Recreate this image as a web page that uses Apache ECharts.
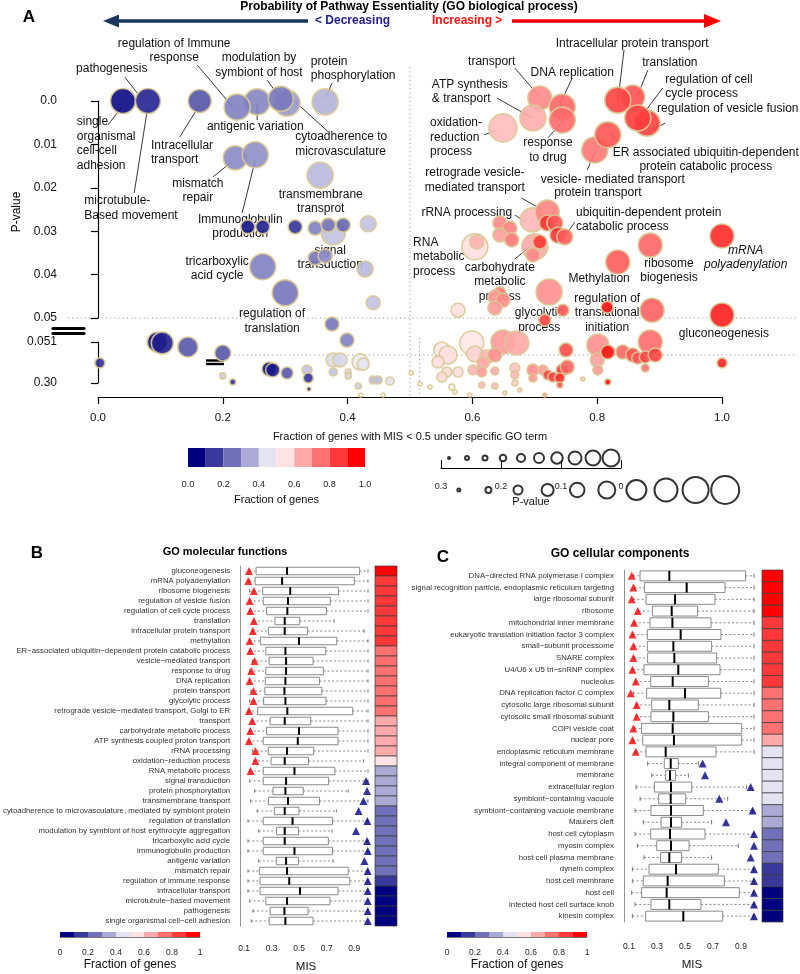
<!DOCTYPE html>
<html><head><meta charset="utf-8">
<script src="https://cdn.jsdelivr.net/npm/echarts@6/dist/echarts.min.js"></script>
<style>html,body{margin:0;padding:0;background:#fff}#c{width:800px;height:974px}</style>
</head><body><div id="c"></div>
<script>
// ---------------- DATA ----------------
// Panel A bubbles: [fraction of genes MIS<0.5, p-value, bubble size, colour fraction]
const bubblesUpper = [
 [0.040,0.0000,12.5,0.02],[0.080,0.0000,12.5,0.07],[0.163,0.0000,11.5,0.165],[0.303,0.0005,13,0.30],
 [0.255,0.0002,13,0.26],[0.223,0.0014,13,0.25],[0.293,-0.0005,12.5,0.235],[0.364,0.0002,13,0.35],
 [0.220,0.0131,12,0.27],[0.252,0.0124,13,0.28],[0.356,0.0171,13,0.36],[0.377,0.0304,12,0.38],
 [0.240,0.0290,7,0.04],[0.264,0.0290,7,0.06],[0.316,0.0290,7,0.10],[0.348,0.0293,7,0.25],
 [0.369,0.0286,7,0.23],[0.393,0.0286,7,0.20],[0.433,0.0283,8,0.38],[0.348,0.0362,7,0.23],
 [0.364,0.0357,7,0.27],[0.428,0.0387,8,0.36],[0.264,0.0382,13,0.25],[0.300,0.0442,13,0.23],
 [0.441,0.0465,7,0.38],[0.375,0.0514,7,0.23],[0.399,0.0551,7,0.25],
 [0.708,-0.0007,12,0.73],[0.697,0.0039,13,0.66],[0.744,0.0014,13,0.80],[0.744,0.0044,13,0.79],
 [0.649,0.0062,14,0.63],[0.857,-0.0009,12,0.84],[0.833,-0.0002,13,0.87],[0.880,0.0051,13,0.87],
 [0.865,0.0039,13,0.88],[0.796,0.0113,13,0.77],[0.817,0.0078,13,0.83],[0.644,0.0281,7,0.73],
 [0.660,0.0293,7,0.75],[0.644,0.0309,7,0.69],[0.663,0.0320,7,0.77],[0.604,0.0336,13,0.56],
 [0.607,0.0325,7,0.65],[0.696,0.0274,12,0.64],[0.720,0.0256,12,0.74],[0.720,0.0281,8,0.90],
 [0.732,0.0281,8,0.84],[0.737,0.0309,8,0.90],[0.748,0.0313,8,0.82],[0.700,0.0336,13,0.67],
 [0.708,0.0325,7,0.89],[0.697,0.0355,7,0.73],[0.833,0.0371,12,0.82],[0.885,0.0332,12,0.80],
 [1.000,0.0311,12,0.92],[0.723,0.0440,13,0.72],[0.644,0.0442,6,0.77],[0.636,0.0452,7,0.70],
 [0.649,0.0459,7,0.73],[0.636,0.0477,7,0.70],[0.577,0.0482,7,0.56],[0.745,0.0482,6,0.83],
 [0.716,0.0505,6,0.87],[0.816,0.0475,6,0.97],[0.888,0.0482,12,0.81],[1.000,0.0493,12,0.94]
];
const bubblesLower = [
 [0.095,0.051,10,0.02],[0.103,0.057,11,0.06],[0.144,0.081,10,0.17],[0.200,0.118,8,0.17],
 [0.003,0.178,5,0.10],[0.274,0.215,7,0.03],[0.280,0.221,7,0.05],[0.303,0.239,6,0.17],
 [0.335,0.221,5,0.38],[0.337,0.270,5,0.10],[0.200,0.257,3,0.40],[0.216,0.294,3,0.10],
 [0.377,0.160,7,0.43],[0.388,0.160,7,0.42],[0.420,0.172,8,0.46],[0.425,0.185,6,0.45],
 [0.377,0.233,4,0.38],[0.401,0.233,3,0.42],[0.401,0.257,3,0.42],[0.417,0.318,3,0.40],
 [0.441,0.282,4,0.36],[0.449,0.282,4,0.37],[0.468,0.288,4,0.44],[0.338,0.336,2,0.05],
 [0.421,0.373,2,0.50],[0.457,0.373,2,0.50],[0.502,0.239,2,0.50],[0.516,0.306,2,0.50],
 [0.599,0.057,12,0.55],[0.649,0.051,12,0.70],[0.671,0.057,12,0.67],[0.885,0.051,12,0.79],
 [0.801,0.069,11,0.72],[0.551,0.100,8,0.55],[0.561,0.130,9,0.56],[0.545,0.172,6,0.56],
 [0.559,0.233,5,0.57],[0.551,0.264,5,0.57],[0.577,0.233,5,0.56],[0.567,0.324,3,0.52],
 [0.604,0.124,8,0.59],[0.623,0.142,7,0.65],[0.617,0.178,6,0.67],[0.636,0.130,7,0.72],
 [0.601,0.221,5,0.65],[0.615,0.233,5,0.70],[0.636,0.227,4,0.67],[0.668,0.209,5,0.62],
 [0.668,0.251,4,0.64],[0.668,0.300,3,0.59],[0.636,0.318,3,0.63],[0.615,0.312,3,0.63],
 [0.697,0.221,6,0.73],[0.697,0.270,4,0.70],[0.713,0.221,5,0.70],[0.721,0.251,5,0.87],
 [0.729,0.264,5,0.87],[0.744,0.221,6,0.90],[0.752,0.203,7,0.80],[0.740,0.270,5,0.92],
 [0.750,0.100,7,0.85],[0.740,0.312,3,0.85],[0.777,0.276,2,0.60],[0.800,0.160,7,0.69],
 [0.801,0.221,5,0.70],[0.817,0.112,7,0.97],[0.841,0.112,7,0.80],[0.857,0.130,7,0.85],
 [0.865,0.148,6,0.83],[0.877,0.142,6,0.87],[0.893,0.130,7,0.87],[0.877,0.209,4,0.77],
 [0.817,0.294,3,0.97],[1.000,0.178,5,0.93],[0.532,0.324,2,0.52],[0.572,0.355,2,0.52],
 [0.596,0.373,2,0.55],[0.652,0.361,2,0.60],[0.676,0.343,2,0.60],[0.716,0.373,2,0.70]
];
const lowerYTicks = [0.051, 0.30];
// annotations (data coordinates of panel A upper axis)
const annotations = [
 {t:'regulation of Immune\nresponse', at:[0.122,-0.0116], al:'center', ln:[[0.159,-0.0083],[0.216,0.0014]]},
 {t:'pathogenesis', at:[0.022,-0.0074], al:'center', ln:[[0.043,-0.0055],[0.063,-0.0018]]},
 {t:'modulation by\nsymbiont of host', at:[0.258,-0.0083], al:'center', ln:[[0.271,-0.0048],[0.292,-0.0007]]},
 {t:'protein\nphosphorylation', at:[0.341,-0.0075], al:'left', ln:[[0.375,-0.0041],[0.364,-0.0007]]},
 {t:'single\norganismal\ncell-cell\nadhesion', at:[-0.034,0.0098], al:'left', ln:[[0.016,0.0055],[0.038,0.0014]]},
 {t:'Intracellular\ntransport', at:[0.085,0.0119], al:'left', ln:[[0.131,0.0083],[0.163,0.0009]]},
 {t:'antigenic variation', at:[0.252,0.0060], al:'center', ln:[[0.255,0.0044],[0.255,0.0005]]},
 {t:'cytoadherence to\nmicrovasculature', at:[0.316,0.0100], al:'left', ln:[[0.369,0.0071],[0.313,-0.0002]]},
 {t:'mismatch\nrepair', at:[0.160,0.0207], al:'center', ln:[[0.184,0.0175],[0.212,0.0143]]},
 {t:'microtubule-\nBased movement', at:[-0.022,0.0247], al:'left', ln:[[0.058,0.0212],[0.079,0.0021]]},
 {t:'Immunoglobulin\nproduction', at:[0.228,0.0290], al:'center', ln:[[0.231,0.0258],[0.252,0.0136]]},
 {t:'transmembrane\ntransprot', at:[0.357,0.0232], al:'center'},
 {t:'signal\ntransduction', at:[0.372,0.0361], al:'center'},
 {t:'tricarboxylic\nacid cycle', at:[0.191,0.0386], al:'center'},
 {t:'regulation of\ntranslation', at:[0.279,0.0507], al:'center'},
 {t:'Intracellular protein transport', at:[0.856,-0.0131], al:'center', ln:[[0.843,-0.0118],[0.833,0.0002]]},
 {t:'translation', at:[0.872,-0.0088], al:'left', ln:[[0.881,-0.0071],[0.864,-0.0009]]},
 {t:'regulation of cell\ncycle process', at:[0.909,-0.0033], al:'left', ln:[[0.905,-0.0030],[0.869,0.0039]]},
 {t:'regulation of vesicle fusion', at:[0.896,0.0018], al:'left', ln:[[0.909,0.0051],[0.881,0.0071]]},
 {t:'ER associated ubiquitin-dependent\nprotein catabolic process', at:[0.974,0.0135], al:'center', ln:[[0.833,0.0090],[0.819,0.0074]]},
 {t:'vesicle- mediated transport', at:[0.825,0.0182], al:'center', ln:[[0.784,0.0159],[0.796,0.0118]]},
 {t:'protein transport', at:[0.801,0.0212], al:'center', ln:[[0.736,0.0240],[0.721,0.0279]]},
 {t:'transport', at:[0.631,-0.0090], al:'center', ln:[[0.668,-0.0076],[0.708,-0.0009]]},
 {t:'DNA replication', at:[0.760,-0.0065], al:'center', ln:[[0.760,-0.0053],[0.740,0.0009]]},
 {t:'ATP synthesis\n& transport', at:[0.535,-0.0021], al:'left', ln:[[0.639,-0.0007],[0.696,0.0039]]},
 {t:'oxidation-\nreduction\nprocess', at:[0.532,0.0084], al:'left', ln:[[0.619,0.0078],[0.639,0.0067]]},
 {t:'response\nto drug', at:[0.721,0.0113], al:'center', ln:[[0.721,0.0085],[0.744,0.0048]]},
 {t:'retrograde vesicle-\nmediated transport', at:[0.604,0.0183], al:'center', ln:[[0.679,0.0224],[0.713,0.0251]]},
 {t:'rRNA processing', at:[0.591,0.0258], al:'center', ln:[[0.668,0.0263],[0.686,0.0279]]},
 {t:'ubiquitin-dependent protein\ncatabolic process', at:[0.766,0.0273], al:'left', ln:[[0.764,0.0279],[0.752,0.0304]]},
 {t:'RNA\nmetabolic\nprocess', at:[0.505,0.0359], al:'left'},
 {t:'carbohydrate\nmetabolic\nprocess', at:[0.644,0.0417], al:'center', ln:[[0.668,0.0364],[0.692,0.0336]]},
 {t:'Methylation', at:[0.803,0.0410], al:'center'},
 {t:'ribosome\nbiogenesis', at:[0.915,0.0391], al:'center'},
 {t:'mRNA\npolyadenylation', at:[1.038,0.0361], al:'center', it:true},
 {t:'glycolytic\nprocess', at:[0.707,0.0505], al:'center'},
 {t:'regulation of\ntranslational\ninitiation', at:[0.816,0.0488], al:'center'},
 {t:'gluconeogenesis', at:[1.003,0.0535], al:'center'}
];
const legendColors = ['#000080','#39399c','#7171b9','#aaaad5','#e3e3f1','#ffe3e3','#ffaaaa','#ff7171','#ff3939','#ff0000'];
const sizeLegendTop = [2,4,5,6.5,8,10,11.5,13,15,17];
const sizeLegendBottom = [3,6,9,12,14.5,17,20,23,26,28];

// Panel B
const bCats = ['gluconeogenesis','mRNA polyadenylation','ribosome biogenesis','regulation of vesicle fusion','regulation of cell cycle process','translation','intracellular protein transport','methylation','ER\u2212associated ubiquitin\u2212dependent protein catabolic process','vesicle\u2212mediated transport','response to drug','DNA replication','protein transport','glycolytic process','retrograde vesicle\u2212mediated transport, Golgi to ER','transport','carbohydrate metabolic process','ATP synthesis coupled proton transport','rRNA processing','oxidation\u2212reduction process','RNA metabolic process','signal transduction','protein phosphorylation','transmembrane transport','cytoadherence to microvasculature, mediated by symbiont protein','regulation of translation','modulation by symbiont of host erythrocyte aggregation','tricarboxylic acid cycle','immunoglobulin production','antigenic variation','mismatch repair','regulation of immune response','intracellular transport','microtubule\u2212based movement','pathogenesis','single organismal cell\u2212cell adhesion'];
// [min, Q1, median, Q3, max] of MIS
const bStats = [
 [0.14,0.187,0.412,0.939,1.0],[0.14,0.180,0.376,0.901,1.0],[0.14,0.235,0.435,0.785,1.0],[0.14,0.239,0.419,0.726,1.0],
 [0.14,0.263,0.414,0.698,1.0],[0.17,0.324,0.395,0.504,0.754],[0.16,0.277,0.395,0.561,0.972],[0.14,0.218,0.499,0.773,1.0],
 [0.14,0.258,0.400,0.693,1.0],[0.16,0.282,0.405,0.601,1.0],[0.14,0.258,0.405,0.676,1.0],[0.14,0.254,0.400,0.648,1.0],
 [0.15,0.251,0.393,0.665,1.0],[0.14,0.242,0.400,0.695,1.0],[0.13,0.199,0.414,0.889,1.0],[0.16,0.289,0.395,0.584,1.0],
 [0.14,0.263,0.499,0.783,1.0],[0.13,0.239,0.490,0.783,1.0],[0.16,0.275,0.412,0.606,1.0],[0.17,0.296,0.395,0.568,0.967],
 [0.14,0.239,0.466,0.759,1.0],[0.140,0.239,0.405,0.714,1.0],[0.176,0.310,0.400,0.530,0.856],[0.147,0.277,0.419,0.648,1.0],
 [0.195,0.320,0.395,0.499,0.770],[0.128,0.239,0.452,0.743,1.0],[0.206,0.336,0.395,0.495,0.739],[0.128,0.239,0.395,0.712,1.0],
 [0.128,0.239,0.466,0.743,1.0],[0.206,0.334,0.405,0.495,0.746],[0.128,0.211,0.412,0.856,1.0],[0.128,0.216,0.428,0.868,1.0],
 [0.128,0.216,0.506,0.783,1.0],[0.140,0.258,0.412,0.724,1.0],[0.164,0.289,0.393,0.565,1.0],[0.152,0.282,0.400,0.601,1.0]
];
const bTriangle = [0.135,0.130,0.171,0.140,0.145,0.171,0.164,0.140,0.145,0.176,0.152,0.140,0.168,0.168,0.135,0.159,0.145,0.135,0.183,0.183,0.147,
 0.986,0.993,0.967,0.932,0.995,0.913,0.993,0.998,0.974,0.998,0.998,0.998,0.998,0.998,0.998];
const bFraction = [0.97,0.88,0.87,0.88,0.87,0.86,0.83,0.83,0.78,0.77,0.74,0.74,0.72,0.72,0.71,0.69,0.68,0.67,0.66,0.56,0.38,0.37,0.36,0.36,0.29,0.28,0.28,0.27,0.26,0.25,0.22,0.18,0.08,0.07,0.06,0.04];

// Panel C
const cCats = ['DNA\u2212directed RNA polymerase I complex','signal recognition particle, endoplasmic reticulum targeting','large ribosomal subunit','ribosome','mitochondrial inner membrane','eukaryotic translation initiation factor 3 complex','small\u2212subunit processome','SNARE complex','U4/U6 x U5 tri\u2212snRNP complex','nucleolus','DNA replication factor C complex','cytosolic large ribosomal subunit','cytosolic small ribosomal subunit','COPI vesicle coat','nuclear pore','endoplasmic reticulum membrane','integral component of membrane','membrane','extracellular region','symbiont\u2212containing vacuole','symbiont\u2212containing vacuole membrane','Maurers cleft','host cell cytoplasm','myosin complex','host cell plasma membrane','dynein complex','host cell membrane','host cell','infected host cell surface knob','kinesin complex'];
const cStats = [
 [0.13,0.179,0.388,0.933,0.993],[0.14,0.210,0.512,0.786,0.993],[0.13,0.221,0.429,0.714,0.993],[0.17,0.267,0.405,0.590,0.993],
 [0.14,0.250,0.410,0.686,0.993],[0.13,0.231,0.469,0.757,0.993],[0.14,0.231,0.417,0.690,0.993],[0.14,0.233,0.424,0.726,0.993],
 [0.13,0.207,0.452,0.750,0.993],[0.15,0.255,0.412,0.667,0.993],[0.13,0.226,0.500,0.755,0.993],[0.15,0.262,0.388,0.595,0.993],
 [0.15,0.257,0.417,0.667,0.993],[0.14,0.190,0.412,0.905,0.993],[0.13,0.198,0.421,0.905,0.993],[0.15,0.221,0.362,0.721,0.993],
 [0.233,0.352,0.398,0.452,0.595],[0.262,0.362,0.393,0.433,0.524],[0.150,0.281,0.400,0.548,0.940],[0.179,0.312,0.398,0.505,0.805],
 [0.143,0.257,0.400,0.631,0.980],[0.202,0.329,0.400,0.476,0.690],[0.143,0.255,0.393,0.643,0.990],[0.160,0.298,0.400,0.529,0.881],
 [0.207,0.326,0.388,0.476,0.690],[0.124,0.243,0.436,0.738,0.990],[0.124,0.202,0.376,0.781,0.990],[0.119,0.190,0.369,0.888,0.990],
 [0.143,0.257,0.388,0.614,0.990],[0.124,0.219,0.488,0.769,0.990]
];
const cTriangle = [0.119,0.131,0.119,0.162,0.136,0.124,0.131,0.131,0.124,0.148,0.112,0.155,0.155,0.131,0.124,0.148,
 0.626,0.643,0.969,0.745,0.983,0.793,0.993,0.993,0.969,0.993,0.993,0.993,0.993,0.993];
const cFraction = [0.96,0.95,0.93,0.92,0.88,0.87,0.86,0.85,0.84,0.82,0.78,0.76,0.75,0.73,0.65,0.48,0.46,0.45,0.44,0.42,0.38,0.35,0.28,0.25,0.22,0.17,0.14,0.08,0.06,0.04];

// ---------------- HELPERS ----------------
const F = '"Liberation Sans", Arial, Helvetica, sans-serif';
function grad(t){
  t = Math.max(0, Math.min(1, t));
  let r,g,b;
  if (t <= 0.5){ const s=t/0.5; r=Math.round(255*s); g=r; b=Math.round(128+127*s); }
  else { const s=(t-0.5)/0.5; r=255; g=Math.round(255*(1-s)); b=g; }
  return 'rgb('+r+','+g+','+b+')';
}
function binColor(f){ return legendColors[Math.min(9, Math.floor(f*10+1e-9))]; }

function boxRender(ratio){
  return function(params, api){
    const yi = api.value(0);
    const band = api.size([0,1])[1];
    const h = band*ratio;
    const P = v => api.coord([v, yi]);
    const mn=P(api.value(1)), q1=P(api.value(2)), md=P(api.value(3)), q3=P(api.value(4)), mx=P(api.value(5));
    const cy = mn[1];
    const dash = {stroke:'#6a6a6a', lineWidth:0.8, lineDash:[2,2.2]};
    const cap = {stroke:'#6a6a6a', lineWidth:0.9};
    return {type:'group', children:[
      {type:'line', shape:{x1:mn[0],y1:cy,x2:q1[0],y2:cy}, style:dash},
      {type:'line', shape:{x1:q3[0],y1:cy,x2:mx[0],y2:cy}, style:dash},
      {type:'line', shape:{x1:mn[0],y1:cy-h*0.22,x2:mn[0],y2:cy+h*0.22}, style:cap},
      {type:'line', shape:{x1:mx[0],y1:cy-h*0.22,x2:mx[0],y2:cy+h*0.22}, style:cap},
      {type:'rect', shape:{x:q1[0], y:cy-h/2, width:q3[0]-q1[0], height:h}, style:{fill:'#fff', stroke:'#8a8a8a', lineWidth:1}},
      {type:'line', shape:{x1:md[0],y1:cy-h/2,x2:md[0],y2:cy+h/2}, style:{stroke:'#000', lineWidth:2}}
    ]};
  };
}
function heatRender(params, api){
  const yi = api.value(0), f = api.value(1);
  const band = api.size([0,1])[1];
  const l = api.coord([0, yi]), r = api.coord([1, yi]);
  return {type:'rect', shape:{x:l[0], y:l[1]-band/2, width:r[0]-l[0], height:band},
    style:{fill:binColor(f), stroke:'#3a3a3a', lineWidth:0.7}};
}
function barRender(params, api){
  const a = api.coord([api.value(0), 0]), b = api.coord([api.value(1), 1]);
  return {type:'rect', shape:{x:a[0], y:b[1], width:b[0]-a[0], height:a[1]-b[1]},
    style:{fill:legendColors[api.value(2)]}};
}
function annRender(params, api){
  const a = annotations[params.dataIndex];
  const c = api.coord(a.at);
  const ch = [];
  if (a.ln){
    const p1 = api.coord(a.ln[0]), p2 = api.coord(a.ln[1]);
    ch.push({type:'line', shape:{x1:p1[0],y1:p1[1],x2:p2[0],y2:p2[1]}, style:{stroke:'#222', lineWidth:0.9}});
  }
  ch.push({type:'text', x:c[0], y:c[1], style:{text:a.t, fill:'#111', fontSize:12, fontFamily:F,
    fontStyle:a.it?'italic':'normal', align:a.al, verticalAlign:'middle', lineHeight:14.5}});
  return {type:'group', children:ch};
}
const colorbarData = legendColors.map((c,i)=>[i/10,(i+1)/10,i]);
const hidVal = (gi,min,max)=>({type:'value', gridIndex:gi, min:min===undefined?0:min, max:max===undefined?1:max, show:false});
const hidCat = (gi,data)=>({type:'category', gridIndex:gi, data:data, inverse:true, show:false});
const misAxis = (gi, off) => ({type:'value', gridIndex:gi, min:0.1, max:1.0, interval:0.1, offset:off,
  axisLine:{lineStyle:{color:'#555', width:0.8}}, axisTick:{length:4, lineStyle:{color:'#555', width:0.8}},
  axisLabel:{fontSize:8.5, color:'#222', margin:9, formatter:v=>{const k=Math.round(v*10); return k%2===1?(k/10).toFixed(1):'';}},
  splitLine:{show:false}, name:'MIS', nameLocation:'middle', nameGap:26, nameTextStyle:{fontSize:11.5, color:'#111'}});
const catAxis = (gi, data, off) => ({type:'category', gridIndex:gi, data:data, inverse:true, offset:off,
  axisLine:{lineStyle:{color:'#777', width:0.8}}, axisTick:{alignWithLabel:true, interval:0, length:5, lineStyle:{color:'#777', width:0.8}},
  axisLabel:{interval:0, fontSize:7.8, color:'#333', margin:10}, splitLine:{show:false}});
const legAxis = (gi) => ({type:'value', gridIndex:gi, min:0, max:1, interval:0.2,
  axisLine:{lineStyle:{color:'#555', width:0.8}}, axisTick:{show:false},
  axisLabel:{fontSize:8.5, color:'#222', margin:11, formatter:v=>String(Math.round(v*10)/10)}, splitLine:{show:false},
  name:'Fraction of genes', nameLocation:'middle', nameGap:22, nameTextStyle:{fontSize:12, color:'#111'}});

// ---------------- OPTION ----------------
const option = {
  animation:false,
  textStyle:{fontFamily:F},
  grid:[
    {left:98, top:101, width:624, height:217},
    {left:98, top:342, width:624, height:41},
    {left:188, top:448, width:177, height:19},
    {left:440, top:450, width:180, height:16},
    {left:441, top:460, width:180, height:8},
    {left:444, top:482, width:296, height:16},
    {left:241, top:566, width:127, height:360},
    {left:375, top:566, width:22, height:360},
    {left:60, top:932, width:140, height:5},
    {left:629, top:570, width:126, height:352},
    {left:762, top:570, width:21, height:352},
    {left:447, top:932, width:140, height:5}
  ],
  xAxis:[
    hidVal(0),
    {type:'value', gridIndex:1, min:0, max:1, interval:0.2, offset:14,
      axisLine:{lineStyle:{color:'#000', width:1.2}}, axisTick:{length:7, lineStyle:{color:'#000', width:1.2}},
      axisLabel:{fontSize:11.5, color:'#111', margin:15, formatter:v=>v.toFixed(1)}, splitLine:{show:false},
      name:'Fraction of genes with MIS < 0.5 under specific GO term', nameLocation:'middle', nameGap:34,
      nameTextStyle:{fontSize:11, color:'#111'}},
    {type:'value', gridIndex:2, min:0, max:1, interval:0.2, axisLine:{show:false}, axisTick:{show:false},
      axisLabel:{fontSize:9, color:'#222', margin:13, formatter:v=>v.toFixed(1)}, splitLine:{show:false},
      name:'Fraction of genes', nameLocation:'middle', nameGap:27, nameTextStyle:{fontSize:11, color:'#111'}},
    {type:'category', gridIndex:3, data:sizeLegendTop.map((d,i)=>i), show:false},
    {type:'value', gridIndex:4, min:0, max:0.3, interval:0.1, inverse:true,
      axisLine:{lineStyle:{color:'#000', width:1}}, axisTick:{inside:true, length:8, lineStyle:{color:'#000'}},
      axisLabel:{fontSize:9, color:'#222', margin:14, formatter:v=>v===0?'0':v.toFixed(1)}, splitLine:{show:false},
      name:'P-value', nameLocation:'middle', nameGap:28, nameTextStyle:{fontSize:11, color:'#111'}},
    {type:'category', gridIndex:5, data:sizeLegendBottom.map((d,i)=>i), show:false},
    misAxis(6, 9),
    hidVal(7),
    legAxis(8),
    misAxis(9, 11),
    hidVal(10),
    legAxis(11)
  ],
  yAxis:[
    {type:'value', gridIndex:0, min:0, max:0.05, interval:0.01, inverse:true, offset:30,
      axisLine:{lineStyle:{color:'#000', width:1.2}}, axisTick:{length:7, lineStyle:{color:'#000', width:1.2}},
      axisLabel:{fontSize:12, color:'#111', margin:11, formatter:v=>v===0?'0.0':v.toFixed(2)}, splitLine:{show:false}},
    {type:'value', gridIndex:1, min:0.051, max:0.30, inverse:true, offset:30,
      axisLine:{lineStyle:{color:'#000', width:1.2}},
      axisTick:{length:7, customValues:lowerYTicks, lineStyle:{color:'#000', width:1.2}},
      axisLabel:{fontSize:12, color:'#111', margin:11, customValues:lowerYTicks, formatter:v=>v<0.1?v.toFixed(3):v.toFixed(2)},
      splitLine:{show:false}},
    hidVal(2), hidVal(3), hidVal(4), hidVal(5),
    catAxis(6, bCats, 4),
    hidCat(7, bCats),
    hidVal(8),
    catAxis(9, cCats, 5),
    hidCat(10, cCats),
    hidVal(11)
  ],
  series:[
    {type:'custom', xAxisIndex:0, yAxisIndex:0, z:2, silent:true, renderItem:annRender,
      data:annotations.map(a=>a.at), encode:{x:0, y:1}},
    {type:'scatter', xAxisIndex:0, yAxisIndex:0, z:3, silent:true, clip:false, data:bubblesUpper,
      symbolSize:d=>d[2]*2, itemStyle:{color:p=>grad(p.data[3]), borderColor:'#d9c993', borderWidth:1.6, opacity:0.9}},
    {type:'scatter', xAxisIndex:1, yAxisIndex:1, z:3, silent:true, clip:false, data:bubblesLower,
      symbolSize:d=>d[2]*2, itemStyle:{color:p=>grad(p.data[3]), borderColor:'#d9c993', borderWidth:1.6, opacity:0.9}},
    {type:'custom', xAxisIndex:2, yAxisIndex:2, silent:true, renderItem:barRender, data:colorbarData, encode:{x:[0,1], y:2}},
    {type:'scatter', xAxisIndex:3, yAxisIndex:3, silent:true, clip:false, symbol:'emptyCircle',
      data:sizeLegendTop.map((d,i)=>[i,0.5,d]), symbolSize:d=>d[2], itemStyle:{color:'#000', borderWidth:1}},
    {type:'scatter', xAxisIndex:5, yAxisIndex:5, silent:true, clip:false, symbol:'emptyCircle',
      data:sizeLegendBottom.map((d,i)=>[i,0.5,d]), symbolSize:d=>d[2], itemStyle:{color:'#000', borderWidth:1.7}},
    {type:'custom', xAxisIndex:6, yAxisIndex:6, silent:true, renderItem:boxRender(0.75),
      data:bStats.map((s,i)=>[i].concat(s)), encode:{x:[1,2,3,4,5], y:0}},
    {type:'scatter', xAxisIndex:6, yAxisIndex:6, silent:true, z:4, symbol:'triangle', symbolSize:8,
      data:bTriangle.map((v,i)=>[v,i]), itemStyle:{color:p=>p.data[0]<0.5?'#ff0000':'#000080'}},
    {type:'custom', xAxisIndex:7, yAxisIndex:7, silent:true, renderItem:heatRender,
      data:bFraction.map((f,i)=>[i,f]), encode:{x:1, y:0}},
    {type:'custom', xAxisIndex:8, yAxisIndex:8, silent:true, renderItem:barRender, data:colorbarData, encode:{x:[0,1], y:2}},
    {type:'custom', xAxisIndex:9, yAxisIndex:9, silent:true, renderItem:boxRender(0.85),
      data:cStats.map((s,i)=>[i].concat(s)), encode:{x:[1,2,3,4,5], y:0}},
    {type:'scatter', xAxisIndex:9, yAxisIndex:9, silent:true, z:4, symbol:'triangle', symbolSize:8,
      data:cTriangle.map((v,i)=>[v,i]), itemStyle:{color:p=>p.data[0]<0.5?'#ff0000':'#000080'}},
    {type:'custom', xAxisIndex:10, yAxisIndex:10, silent:true, renderItem:heatRender,
      data:cFraction.map((f,i)=>[i,f]), encode:{x:1, y:0}},
    {type:'custom', xAxisIndex:11, yAxisIndex:11, silent:true, renderItem:barRender, data:colorbarData, encode:{x:[0,1], y:2}}
  ]
};

const chart = echarts.init(document.getElementById('c'), null, {renderer:'canvas'});
chart.setOption(option);

// reference lines & decorations
const g0 = pt => chart.convertToPixel({gridIndex:0}, pt);
const g1 = pt => chart.convertToPixel({gridIndex:1}, pt);
const dot = {stroke:'#9a9a9a', lineWidth:1, lineDash:[1.2,3]};
const yAxisX = g0([0,0])[0] - 30;
const bottomY = g1([0,0.30])[1] + 14;
const txt = (x,y,t,opt) => Object.assign({type:'text', x:x, y:y, silent:true,
  style:Object.assign({text:t, fill:'#000', fontSize:12, fontFamily:F, align:'center', verticalAlign:'middle'}, opt||{})});
const gfx = [
  {type:'line', silent:true, shape:{x1:yAxisX, y1:g0([0,0.05])[1], x2:g0([1.12,0])[0], y2:g0([0,0.05])[1]}, style:dot},
  {type:'line', silent:true, shape:{x1:g1([0.205,0])[0], y1:g1([0,0.13])[1], x2:g1([1.12,0])[0], y2:g1([0,0.13])[1]}, style:dot},
  {type:'line', silent:true, shape:{x1:g0([0.5,0])[0], y1:g0([0,-0.0078])[1], x2:g0([0.5,0])[0], y2:bottomY}, style:dot},
  {type:'line', silent:true, shape:{x1:g1([0.515,0])[0], y1:g1([0,0.051])[1]-4, x2:g1([0.515,0])[0], y2:bottomY}, style:dot},
  // axis break marks
  {type:'line', silent:true, shape:{x1:53,y1:328.5,x2:84,y2:328.5}, style:{stroke:'#000', lineWidth:3.2, lineCap:'round'}},
  {type:'line', silent:true, shape:{x1:53,y1:333.5,x2:84,y2:333.5}, style:{stroke:'#000', lineWidth:3.2, lineCap:'round'}},
  {type:'line', silent:true, shape:{x1:206,y1:360.5,x2:224,y2:360.5}, style:{stroke:'#000', lineWidth:2.4}},
  {type:'line', silent:true, shape:{x1:206,y1:364,x2:224,y2:364}, style:{stroke:'#000', lineWidth:2.4}},
  // arrows
  {type:'line', silent:true, shape:{x1:116,y1:21,x2:308,y2:21}, style:{stroke:'#1b365d', lineWidth:3.5}},
  {type:'polygon', silent:true, shape:{points:[[103,21],[119,14.5],[119,27.5]]}, style:{fill:'#1b365d'}},
  {type:'line', silent:true, shape:{x1:512,y1:21,x2:707,y2:21}, style:{stroke:'#ff0000', lineWidth:3.5}},
  {type:'polygon', silent:true, shape:{points:[[721,21],[704,14],[704,28]]}, style:{fill:'#ff0000'}},
  txt(409,7,'Probability of Pathway Essentiality (GO biological process)', {fontWeight:'bold'}),
  txt(29,17,'A', {fontWeight:'bold', fontSize:17}),
  txt(315,21,'< Decreasing', {fontWeight:'bold', fill:'#1f1f8c', align:'left'}),
  txt(432,21,'Increasing >', {fontWeight:'bold', fill:'#ff1010', align:'left'}),
  Object.assign(txt(17,212,'P-value'), {rotation:Math.PI/2}),
  txt(37,553,'B', {fontWeight:'bold', fontSize:17}),
  txt(225,552,'GO molecular functions', {fontWeight:'bold', fontSize:11}),
  txt(443,557,'C', {fontWeight:'bold', fontSize:17}),
  txt(620,554,'GO cellular components', {fontWeight:'bold', fontSize:12})
];
chart.setOption({graphic:gfx});
</script></body></html>
